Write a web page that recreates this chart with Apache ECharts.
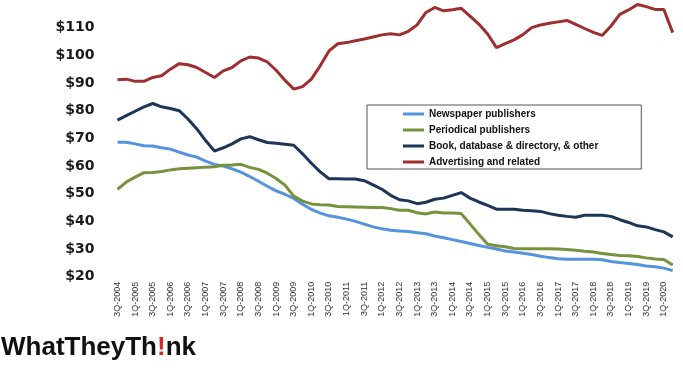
<!DOCTYPE html>
<html>
<head>
<meta charset="utf-8">
<script src="https://cdn.jsdelivr.net/npm/echarts@6/dist/echarts.min.js"></script>
<style>
html,body{margin:0;padding:0;background:#fff;}
#c{width:683px;height:371px;}
</style>
</head>
<body>
<div id="c"></div>
<script>
const quarters = [];
(function(){
  let q = 3, y = 2004;
  for (let i = 0; i < 64; i++) {
    quarters.push(q + 'Q-' + y);
    q++; if (q > 4) { q = 1; y++; }
  }
})();

const seriesNames = ['Newspaper publishers', 'Periodical publishers', 'Book, database & directory, & other', 'Advertising and related'];

const newspaper = [68.6,68.6,68.0,67.3,67.2,66.6,66.1,65.0,64.0,63.2,61.8,60.6,60.0,59.0,57.8,56.2,
  54.5,52.7,51.0,49.8,48.3,46.2,44.3,43.0,42.0,41.5,40.8,40.0,39.0,38.0,37.3,36.8,
  36.5,36.3,35.9,35.5,34.7,34.1,33.4,32.7,32.0,31.3,30.6,30.0,29.3,28.9,28.5,28.0,
  27.4,26.9,26.5,26.3,26.3,26.3,26.3,26.1,25.5,25.1,24.8,24.4,23.9,23.6,23.1,22.2];

const periodical = [51.6,54.2,56.0,57.6,57.7,58.0,58.6,59.0,59.2,59.4,59.6,59.7,60.3,60.4,60.6,59.5,
  58.8,57.4,55.5,53.1,49.1,47.3,46.3,46.0,45.9,45.4,45.3,45.2,45.1,45.0,45.0,44.6,
  44.0,44.0,43.1,42.7,43.4,43.0,43.0,42.8,39.1,35.3,31.7,31.2,30.8,30.2,30.1,30.1,
  30.1,30.1,30.0,29.8,29.6,29.2,28.9,28.4,28.0,27.7,27.6,27.3,26.8,26.4,26.2,24.2];

const book = [76.6,78.2,79.8,81.4,82.6,81.4,80.8,80.0,77.0,73.4,69.2,65.4,66.6,68.0,69.8,70.6,
  69.5,68.5,68.2,67.9,67.5,64.4,61.0,57.9,55.4,55.4,55.3,55.3,54.7,53.2,51.6,49.4,
  47.8,47.4,46.4,46.9,48.0,48.4,49.4,50.4,48.4,47.0,45.8,44.4,44.4,44.4,44.0,43.8,
  43.6,42.8,42.2,41.8,41.5,42.2,42.2,42.2,41.8,40.6,39.6,38.4,38.0,37.0,36.2,34.4];

const advertising = [91.2,91.4,90.6,90.6,92.0,92.6,95.0,97.0,96.6,95.6,93.8,92.0,94.4,95.6,98.0,99.4,
  99.0,97.6,94.6,91.0,87.8,88.7,91.4,96.2,101.6,104.2,104.6,105.3,105.9,106.6,107.4,107.8,
  107.4,108.7,111.0,115.5,117.3,116.1,116.5,117.0,114.2,111.3,107.7,102.8,104.2,105.6,107.5,110.0,
  111.0,111.6,112.1,112.6,111.2,109.7,108.3,107.2,110.6,114.8,116.4,118.4,117.6,116.6,116.6,108.2];

const colors = ['#5494DC', '#76923C', '#1C3558', '#9E2F2E'];
const values = [newspaper, periodical, book, advertising];

const chart = echarts.init(document.getElementById('c'), null, {renderer: 'canvas'});
chart.setOption({
  animation: false,
  backgroundColor: '#ffffff',
  color: colors,
  title: {
    left: 1, top: 333, padding: 0,
    text: '{a|WhatTheyTh}{b|!}{a|nk}',
    textStyle: {
      rich: {
        a: {fontFamily: 'Liberation Sans', fontWeight: 'bold', fontSize: 26, color: '#111', lineHeight: 30},
        b: {fontFamily: 'Liberation Sans', fontWeight: 'bold', fontSize: 26, color: '#d42a2a', lineHeight: 30}
      }
    }
  },
  legend: {
    orient: 'vertical',
    left: 367, top: 105,
    data: seriesNames,
    icon: 'rect',
    itemWidth: 21, itemHeight: 3,
    itemGap: 4,
    padding: [3, 43, 1, 36],
    borderColor: '#555', borderWidth: 1,
    textStyle: {fontFamily: 'Liberation Sans', fontWeight: 'bold', fontSize: 10, color: '#111', lineHeight: 12}
  },
  grid: {left: 117.5, right: 10.3, top: -1.1, bottom: 94.3, containLabel: false},
  xAxis: {
    type: 'category',
    data: quarters,
    boundaryGap: false,
    axisLine: {show: false},
    axisTick: {show: false},
    splitLine: {show: false},
    axisLabel: {interval: 1, rotate: 90, fontSize: 9, margin: 5, color: '#333', fontFamily: 'Liberation Sans'}
  },
  yAxis: {
    type: 'value',
    min: 20, max: 120, interval: 10,
    axisLine: {show: false},
    axisTick: {show: false},
    splitLine: {show: false},
    axisLabel: {
      margin: 23, fontSize: 14, fontWeight: 'bold', fontFamily: 'DejaVu Sans', color: '#1a1a1a',
      formatter: v => v >= 120 ? '' : '$' + v
    }
  },
  series: seriesNames.map((n, i) => ({
    name: n, type: 'line', data: values[i], showSymbol: false, symbol: 'none',
    lineStyle: {width: 3, color: colors[i]}, itemStyle: {color: colors[i]}
  }))
});
</script>
</body>
</html>
